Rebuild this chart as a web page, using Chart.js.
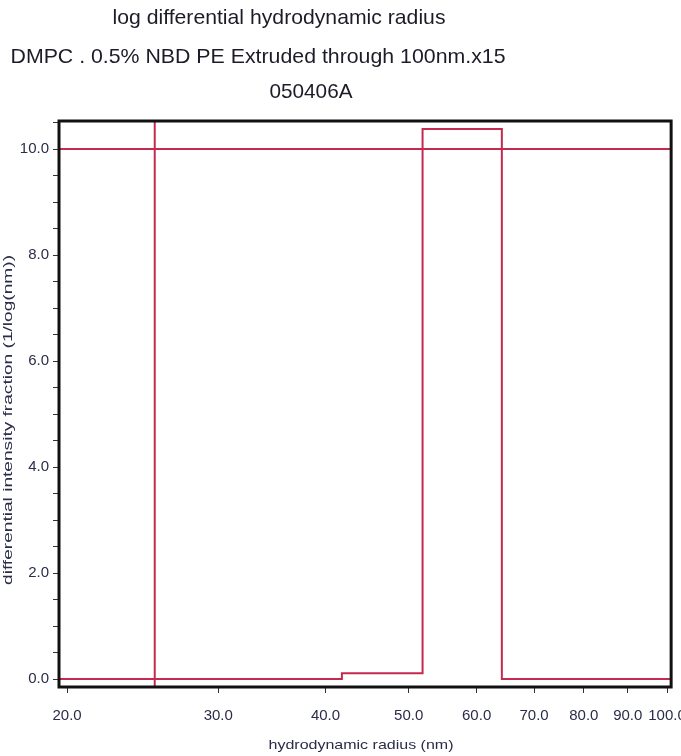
<!DOCTYPE html>
<html>
<head>
<meta charset="utf-8">
<script src="https://cdn.jsdelivr.net/npm/chart.js@4/dist/chart.umd.min.js"></script>
<style>
  html, body { margin: 0; padding: 0; background: #ffffff; overflow: hidden; }
  #wrap { position: absolute; left: 0; top: 0; width: 700px; height: 756px; }
</style>
</head>
<body>
<div id="wrap"><canvas id="c" width="700" height="756"></canvas></div>
<script>
// Title lines
const TITLE_LINES = [
  'log differential hydrodynamic radius',
  'DMPC . 0.5% NBD PE Extruded through 100nm.x15',
  '050406A'
];
const X_TITLE = 'hydrodynamic radius (nm)';
const Y_TITLE = 'differential intensity fraction (1/log(nm))';

// Axis ranges and ticks
const X_RANGE = [19.57, 101.1];
const Y_RANGE = [-0.15, 10.53];
const X_TICKS = [20, 30, 40, 50, 60, 70, 80, 90, 100];
const X_TICK_LABELS = ['20.0', '30.0', '40.0', '50.0', '60.0', '70.0', '80.0', '90.0', '100.0'];
const Y_TICKS = [0, 0.5, 1, 1.5, 2, 2.5, 3, 3.5, 4, 4.5, 5, 5.5, 6, 6.5, 7, 7.5, 8, 8.5, 9, 9.5, 10, 10.5];
const Y_MAJOR_TICKS = [0, 2, 4, 6, 8, 10];

// Histogram bins: edges (nm) and the value held across each bin
const BIN_EDGES = [19.57, 41.8, 51.9, 64.2, 101.1];
const BIN_VALUES = [0, 0.11, 10.38, 0];

// Reference lines
const REF_LEVEL = 10.0;
const REF_RADIUS = 25.3;

const RED = '#c42a4f';
const INK = '#2b2d48';

const histPoints = BIN_VALUES.map((v, i) => ({ x: BIN_EDGES[i], y: v }));
histPoints.push({ x: BIN_EDGES[BIN_EDGES.length - 1], y: BIN_VALUES[BIN_VALUES.length - 1] });

function fitText(ctx, text, cx, cy, font, width, angle, color) {
  ctx.save();
  ctx.translate(cx, cy);
  if (angle) ctx.rotate(angle);
  ctx.font = font;
  const w = ctx.measureText(text).width;
  ctx.scale(width / w, 1);
  ctx.textAlign = 'center';
  ctx.textBaseline = 'middle';
  ctx.fillStyle = color;
  ctx.fillText(text, 0, 0);
  ctx.restore();
}

const NARROW = '"Liberation Sans Narrow", "Liberation Sans", Arial, sans-serif';
const SANS = '"Liberation Sans", Arial, sans-serif';

const decorations = {
  id: 'decorations',
  afterDatasetsDraw(chart) {
    const ctx = chart.ctx;
    const a = chart.chartArea;
    // plot frame
    ctx.save();
    ctx.strokeStyle = '#111111';
    ctx.lineWidth = 3;
    ctx.strokeRect(a.left, a.top, a.right - a.left, a.bottom - a.top);
    ctx.restore();
  },
  afterDraw(chart) {
    const ctx = chart.ctx;
    const specs = [
      { cx: 279, cy: 18, w: 333 },
      { cx: 258, cy: 57, w: 495 },
      { cx: 311, cy: 92, w: 83 }
    ];
    TITLE_LINES.forEach((t, i) => {
      fitText(ctx, t, specs[i].cx, specs[i].cy, '21px ' + NARROW, specs[i].w, 0, '#1c1c28');
    });
    fitText(ctx, X_TITLE, 361, 745, '13px ' + NARROW, 185, 0, INK);
    fitText(ctx, Y_TITLE, 9, 420, '12px ' + NARROW, 330, -Math.PI / 2, INK);
  }
};

new Chart(document.getElementById('c'), {
  type: 'line',
  data: {
    datasets: [
      {
        data: histPoints,
        stepped: 'before',
        borderColor: RED,
        borderWidth: 2,
        pointRadius: 0,
        fill: false
      },
      {
        data: [{ x: X_RANGE[0], y: REF_LEVEL }, { x: X_RANGE[1], y: REF_LEVEL }],
        borderColor: RED,
        borderWidth: 2,
        pointRadius: 0,
        fill: false
      },
      {
        data: [{ x: REF_RADIUS, y: Y_RANGE[0] }, { x: REF_RADIUS, y: Y_RANGE[1] }],
        borderColor: RED,
        borderWidth: 2,
        pointRadius: 0,
        fill: false
      }
    ]
  },
  options: {
    responsive: false,
    animation: false,
    events: [],
    layout: { padding: { left: 0, top: 121, right: 28, bottom: 0 } },
    plugins: { legend: { display: false }, tooltip: { enabled: false }, title: { display: false } },
    scales: {
      x: {
        type: 'logarithmic',
        min: X_RANGE[0],
        max: X_RANGE[1],
        afterBuildTicks(s) { s.ticks = X_TICKS.map(v => ({ value: v })); },
        afterFit(s) { s.height = 69; },
        border: { display: false },
        grid: { drawOnChartArea: false, drawTicks: true, tickLength: 6, color: '#333333', lineWidth: 1 },
        ticks: {
          autoSkip: false,
          maxRotation: 0,
          padding: 14,
          color: INK,
          font: { family: SANS, size: 15 },
          callback(v, i) { return X_TICK_LABELS[i]; }
        }
      },
      y: {
        type: 'linear',
        min: Y_RANGE[0],
        max: Y_RANGE[1],
        afterBuildTicks(s) { s.ticks = Y_TICKS.map(v => ({ value: v })); },
        afterFit(s) { s.width = 59; },
        border: { display: false },
        grid: { drawOnChartArea: false, drawTicks: true, tickLength: 6, color: '#333333', lineWidth: 1 },
        ticks: {
          autoSkip: false,
          padding: 4,
          color: INK,
          font: { family: SANS, size: 15 },
          callback(v) { return Y_MAJOR_TICKS.includes(v) ? v.toFixed(1) : ''; }
        }
      }
    }
  },
  plugins: [decorations]
});
</script>
</body>
</html>
